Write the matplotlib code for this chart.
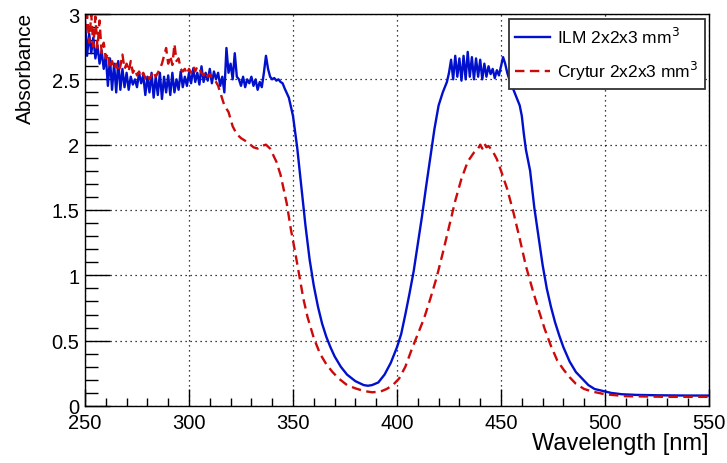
from matplotlib import pyplot as plt
from matplotlib.ticker import MultipleLocator

plt.rcParams['font.family'] = ['Liberation Sans', 'DejaVu Sans']

# ILM crystal: noisy saturated region sampled every 1 nm, smooth edges sparser
ilm_wl = (list(range(250, 346))
          + [346, 348, 350, 352, 354, 356, 358, 360, 362, 364,
             366, 368, 370, 373, 376, 380, 384, 386, 388, 391,
             394, 397, 400, 402, 404, 406, 408, 410, 412, 414,
             416, 418, 420, 422, 424]
          + list(range(425, 463))
          + [464, 466, 468, 470, 472, 474, 476, 478, 480, 483,
             486, 489, 492, 495, 499, 503, 508, 515, 525, 540, 550])
ilm_abs = [
    2.95, 2.68, 2.85, 2.70, 2.82, 2.66, 2.76, 2.62, 2.72, 2.58,
    2.68, 2.45, 2.66, 2.42, 2.62, 2.40, 2.64, 2.42, 2.58, 2.44,
    2.55, 2.42, 2.52, 2.46, 2.50, 2.44, 2.55, 2.47, 2.53, 2.38,
    2.52, 2.40, 2.55, 2.36, 2.52, 2.38, 2.55, 2.35, 2.52, 2.40,
    2.53, 2.38, 2.55, 2.40, 2.50, 2.42, 2.56, 2.44, 2.52, 2.45,
    2.55, 2.47, 2.58, 2.48, 2.55, 2.46, 2.60, 2.48, 2.55, 2.49,
    2.58, 2.47, 2.56, 2.50, 2.55, 2.45, 2.52, 2.40, 2.74, 2.55,
    2.62, 2.50, 2.70, 2.52, 2.50, 2.45, 2.52, 2.44, 2.50, 2.47,
    2.52, 2.45, 2.50, 2.42, 2.48, 2.44, 2.55, 2.68, 2.58, 2.52,
    2.50, 2.51, 2.49, 2.50, 2.48, 2.47,
    2.43, 2.36, 2.22, 1.98, 1.68, 1.38, 1.12, 0.92, 0.76, 0.63,
    0.53, 0.45, 0.38, 0.30, 0.24, 0.19, 0.16, 0.155, 0.16, 0.18,
    0.24, 0.33, 0.45, 0.55, 0.70, 0.86, 1.03, 1.24, 1.45, 1.68,
    1.90, 2.12, 2.30, 2.40, 2.48,
    2.55, 2.65, 2.50, 2.68, 2.52, 2.66, 2.49, 2.68, 2.50, 2.71,
    2.52, 2.67, 2.50, 2.66, 2.52, 2.65, 2.50, 2.62, 2.52, 2.60,
    2.54, 2.58, 2.51, 2.57, 2.53, 2.60, 2.67, 2.62, 2.55, 2.50,
    2.48, 2.42, 2.38, 2.34, 2.30, 2.22, 2.08, 1.96,
    1.80, 1.52, 1.30, 1.08, 0.90, 0.76, 0.64, 0.54, 0.45, 0.34,
    0.26, 0.21, 0.16, 0.13, 0.115, 0.10, 0.09, 0.085, 0.082, 0.080, 0.080,
]

# Crytur crystal
crytur_wl = (list(range(250, 313))
             + [313, 314, 315, 316, 317, 319, 321, 323, 325, 328,
                331, 333, 335, 337, 339, 342, 344, 347, 349, 351,
                353, 355, 357, 360, 363, 366, 369, 372, 376, 380,
                384, 388, 392, 395, 398, 401, 404, 407, 410, 413,
                416, 419, 422, 425, 428, 431, 434, 437, 439, 440,
                441, 442, 443, 444, 446, 448, 450, 453, 456, 459,
                462, 465, 468, 471, 474, 477, 480, 483, 486, 490,
                494, 500, 510, 530, 550])
crytur_abs = [
    2.85, 3.00, 2.78, 3.00, 2.75, 2.98, 2.74, 2.95, 2.70, 2.78,
    2.66, 2.70, 2.58, 2.64, 2.58, 2.62, 2.56, 2.60, 2.69, 2.58,
    2.62, 2.56, 2.64, 2.55, 2.58, 2.53, 2.56, 2.52, 2.55, 2.51,
    2.54, 2.50, 2.53, 2.56, 2.52, 2.55, 2.58, 2.62, 2.68, 2.74,
    2.62, 2.68, 2.61, 2.77, 2.64, 2.66, 2.58, 2.56, 2.58, 2.54,
    2.58, 2.55, 2.60, 2.56, 2.60, 2.58, 2.55, 2.53, 2.56, 2.52,
    2.54, 2.51, 2.50,
    2.48, 2.45, 2.40, 2.35, 2.30, 2.25, 2.14, 2.08, 2.05, 2.02,
    1.98, 1.97, 1.99, 2.00, 1.97, 1.87, 1.77, 1.55, 1.35, 1.18,
    1.00, 0.82, 0.68, 0.52, 0.40, 0.32, 0.26, 0.21, 0.16, 0.135,
    0.115, 0.105, 0.11, 0.13, 0.16, 0.21, 0.30, 0.43, 0.55, 0.67,
    0.82, 0.98, 1.17, 1.37, 1.57, 1.74, 1.87, 1.94, 1.97, 2.00,
    1.97, 2.01, 1.98, 1.99, 1.95, 1.89, 1.80, 1.66, 1.48, 1.28,
    1.07, 0.90, 0.74, 0.59, 0.46, 0.35, 0.28, 0.22, 0.17, 0.13,
    0.11, 0.09, 0.075, 0.07, 0.07,
]


def plot_absorbance(save_path: str = 'out.png') -> None:
    """Plot absorbance spectra of the ILM and Crytur crystals in ROOT style."""

    fig = plt.figure(figsize=(7.27, 4.64), dpi=100)
    ax = fig.add_axes([85 / 727, 57 / 464, 624 / 727, 392 / 464])

    ax.plot(ilm_wl, ilm_abs, color='#0010cc', lw=1.7, label='ILM 2x2x3 mm$^3$')
    ax.plot(crytur_wl, crytur_abs, color='#cc0a0a', lw=1.7, dashes=(4, 2.3),
            label='Crytur 2x2x3 mm$^3$')

    ax.set_xlim(250, 550)
    ax.set_ylim(0, 3)

    # ROOT-like ticks: inside, left/bottom only
    ax.xaxis.set_major_locator(MultipleLocator(50))
    ax.xaxis.set_minor_locator(MultipleLocator(10))
    ax.yaxis.set_major_locator(MultipleLocator(0.5))
    ax.yaxis.set_minor_locator(MultipleLocator(0.1))
    ax.yaxis.set_major_formatter(plt.FuncFormatter(lambda v, p: f'{v:g}'))
    ax.tick_params(axis='x', which='major', direction='in', length=12, width=1,
                   labelsize=14.5, pad=5)
    ax.tick_params(axis='x', which='minor', direction='in', length=6, width=1)
    ax.tick_params(axis='y', which='major', direction='in', length=18, width=1,
                   labelsize=14.5, pad=4)
    ax.tick_params(axis='y', which='minor', direction='in', length=9, width=1)
    for side in ax.spines.values():
        side.set_linewidth(1.0)

    ax.grid(True, which='major', color='black', linestyle=(0, (1, 3)), linewidth=0.9)

    ax.set_xlabel('Wavelength [nm]', fontsize=17, loc='right', labelpad=0)
    ax.set_ylabel('Absorbance', fontsize=15, loc='top')
    ax.yaxis.set_label_coords(-0.08, 1.005)

    # Legend in the upper right corner
    leg = ax.legend(loc='upper right', bbox_to_anchor=(0.994, 0.987), fontsize=12.5,
                    fancybox=False, framealpha=1, edgecolor='#333333',
                    handlelength=2.0, handletextpad=0.4, borderpad=0.4,
                    labelspacing=0.75, borderaxespad=0)
    leg.get_frame().set_linewidth(1.3)

    fig.savefig(fname=save_path, dpi=100)
    return None


plot_absorbance('out.png')
